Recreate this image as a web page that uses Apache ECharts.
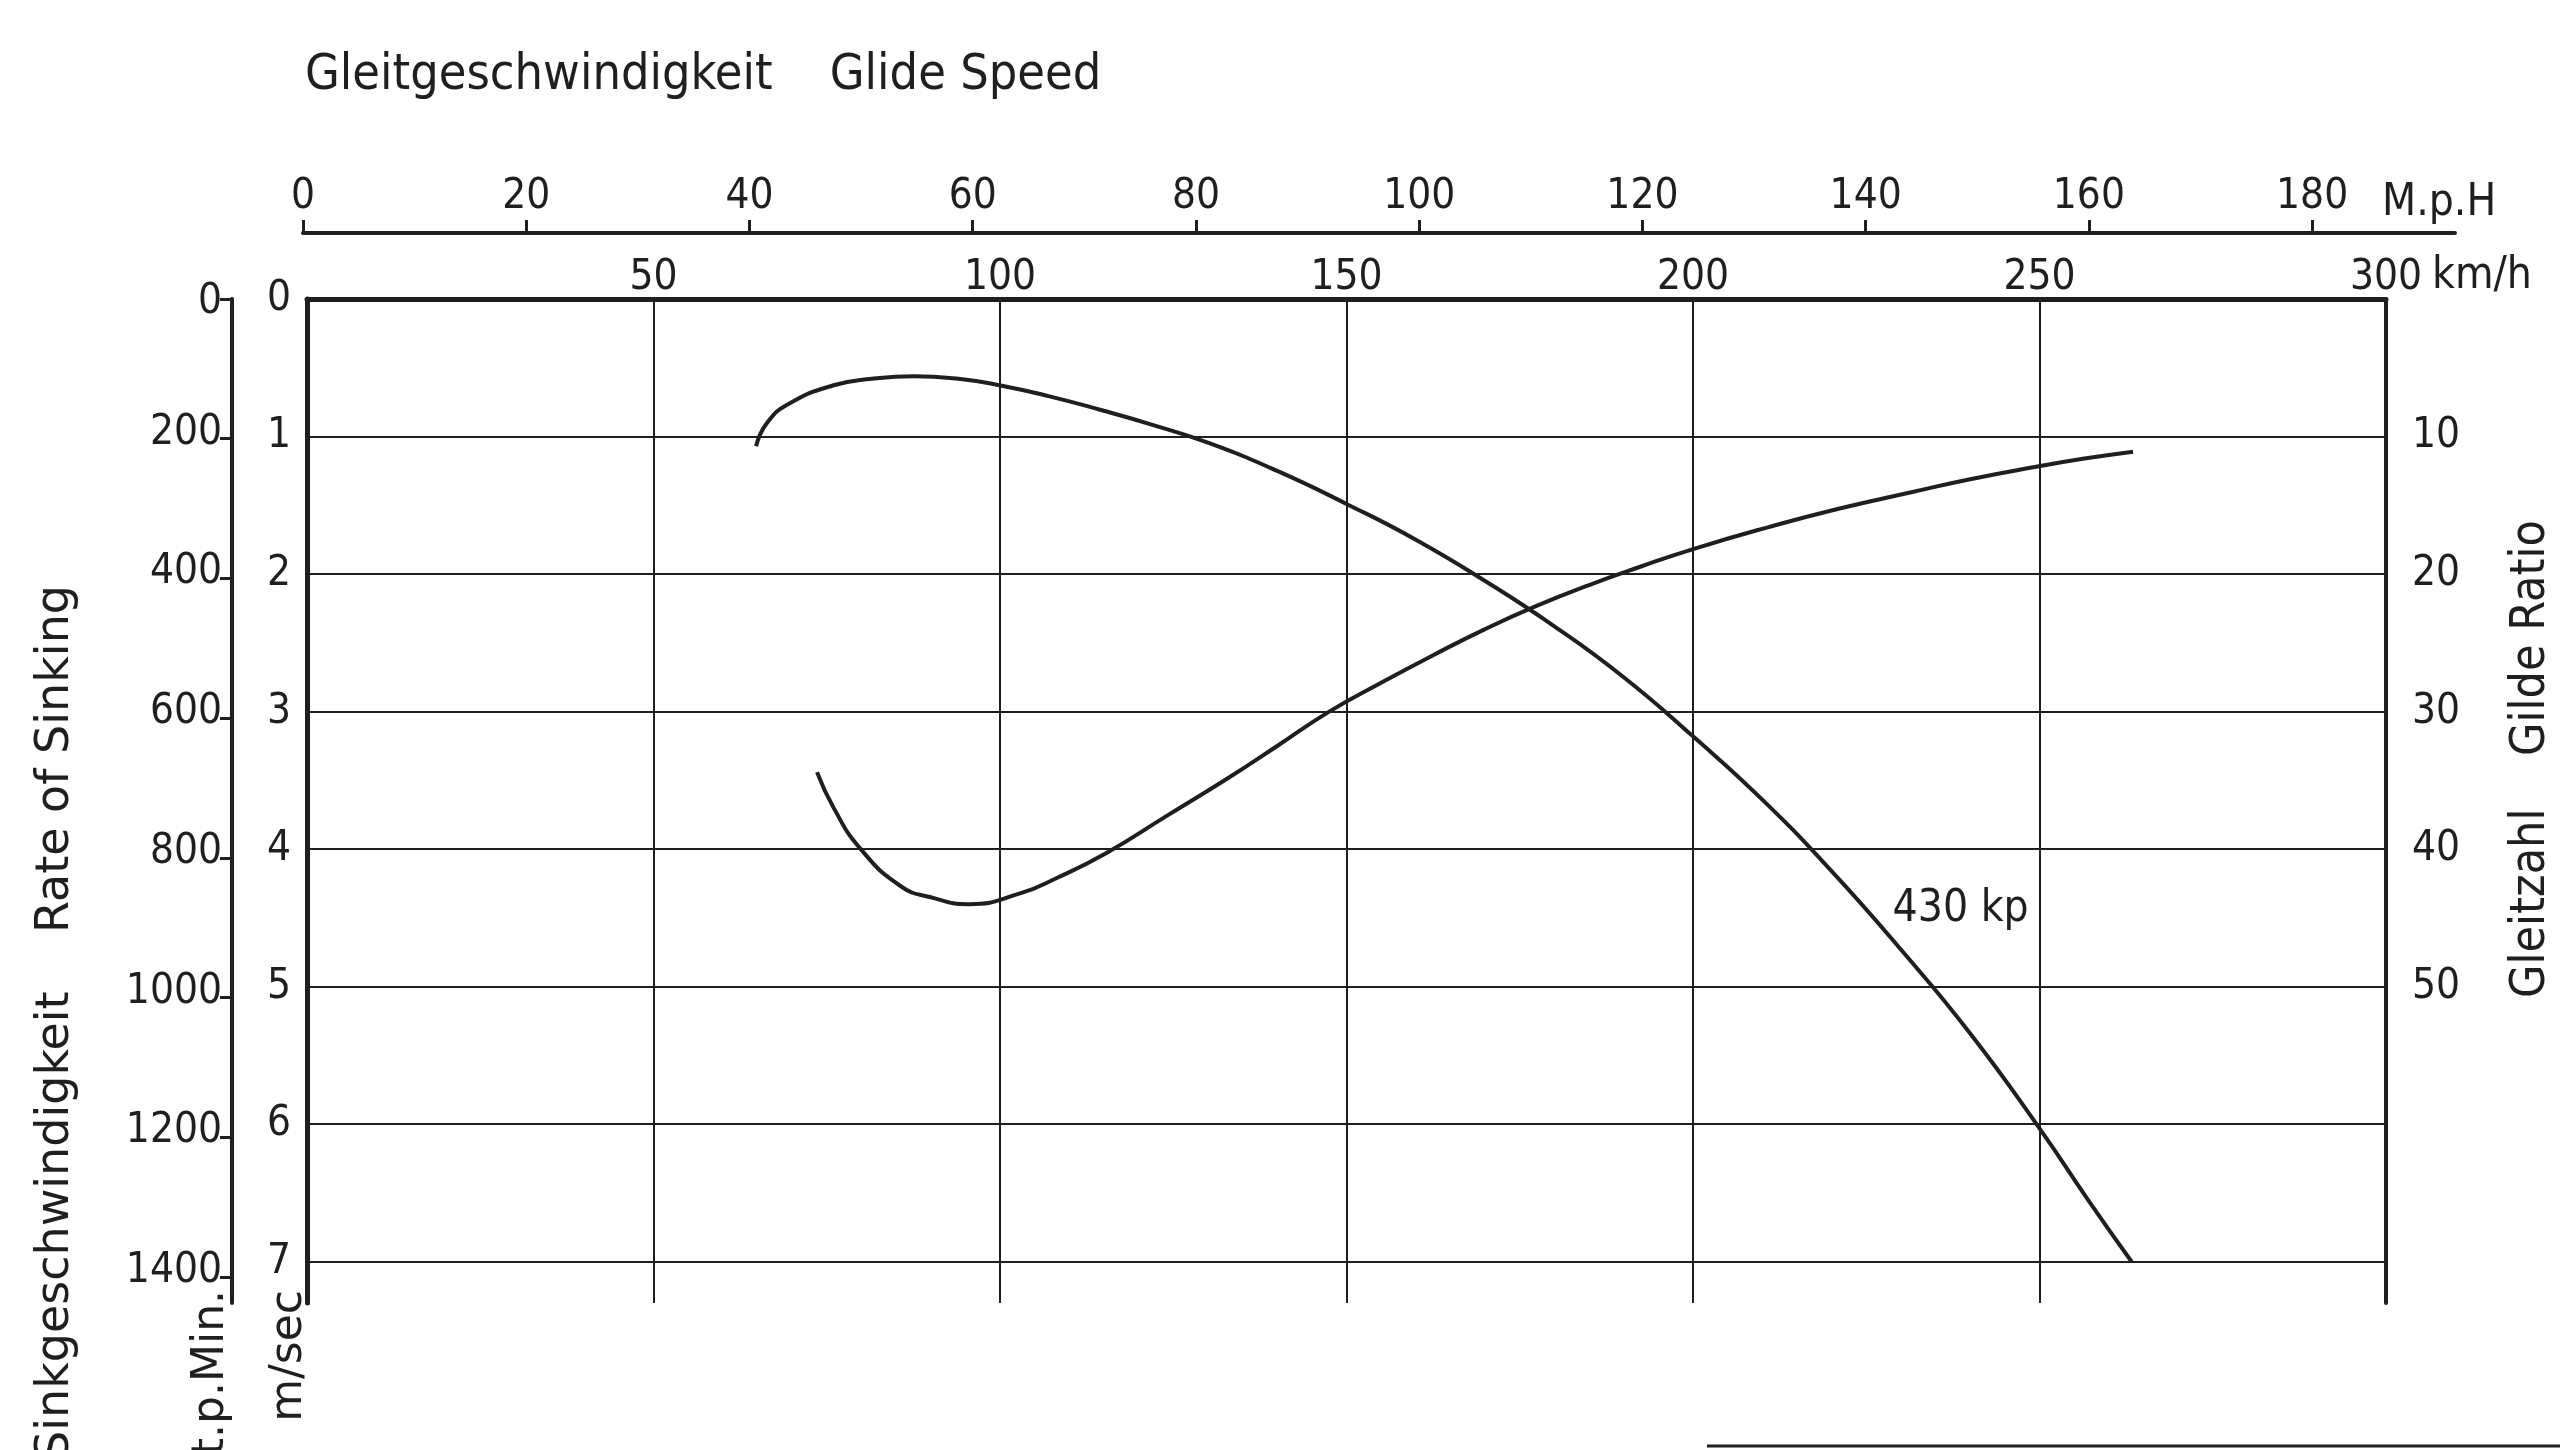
<!DOCTYPE html>
<html>
<head>
<meta charset="utf-8">
<script src="https://cdn.jsdelivr.net/npm/echarts@6/dist/echarts.min.js"></script>
<style>
html, body { margin: 0; padding: 0; background: #fff; }
#main { width: 2560px; height: 1450px; }
</style>
</head>
<body>
<div id="main"></div>
<script>
var chartDom = document.getElementById('main');
var myChart = echarts.init(chartDom);
var option;

// Sinkgeschwindigkeit (m/s) ueber Gleitgeschwindigkeit (km/h), 430 kp
var sinkSpeed = [64.8, 66.4, 69.6, 76.0, 81.5, 87.6, 94.0, 99.9, 107.0, 114.7, 122.0, 130.0, 140.0, 150.0, 160.0, 170.0, 180.0, 190.0, 200.0, 210.0, 220.0, 230.0, 240.0, 250.0, 257.0, 263.3];
var sinkRate = [1.07, 0.90, 0.76, 0.627, 0.58, 0.561, 0.58, 0.627, 0.706, 0.809, 0.915, 1.045, 1.25, 1.49, 1.75, 2.05, 2.38, 2.75, 3.18, 3.64, 4.16, 4.73, 5.34, 6.03, 6.55, 7.0];

// Gleitzahl ueber Gleitgeschwindigkeit (km/h)
var glideSpeed = [73.6, 76.0, 79.9, 85.7, 90.0, 95.5, 103.0, 108.2, 115.3, 124.0, 132.7, 140.0, 147.5, 155.0, 162.5, 170.0, 177.5, 185.0, 192.5, 199.9, 210.8, 221.0, 231.5, 240.0, 249.5, 256.5, 263.5];
var glideRatio = [34.4, 37.0, 40.0, 42.7, 43.5, 44.0, 43.2, 42.1, 40.3, 37.6, 34.9, 32.5, 30.0, 27.9, 25.9, 24.0, 22.3, 20.8, 19.45, 18.2, 16.6, 15.25, 14.05, 13.1, 12.2, 11.6, 11.1];

// tick labels
var ftTicks = [0, 200, 400, 600, 800, 1000, 1200, 1400];
var glideTicks = [10, 20, 30, 40, 50];
var mphTicks = [0, 20, 40, 60, 80, 100, 120, 140, 160, 180];

var ink = '#1f1f1f';
var cond = '"DejaVu Sans Condensed", "Liberation Sans Narrow", "DejaVu Sans", sans-serif';
var wide = '"DejaVu Sans", Verdana, sans-serif';

function pairs(xs, ys) {
    return xs.map(function (x, i) { return [x, ys[i]]; });
}

option = {
    backgroundColor: '#fff',
    animation: false,
    grid: [
        {left: 307, right: 174, top: 299, bottom: 147},
        {left: 303, right: 105, top: 232, height: 1}
    ],
    xAxis: [
        {
            gridIndex: 0,
            type: 'value',
            position: 'top',
            min: 0,
            max: 300,
            interval: 50,
            axisLine: {lineStyle: {color: ink, width: 5}},
            axisTick: {show: false},
            axisLabel: {
                margin: 0,
                fontSize: 42,
                fontFamily: cond,
                color: ink,
                formatter: function (v) { return v === 0 ? '' : v; }
            },
            splitLine: {lineStyle: {color: ink, width: 2}},
            name: 'km/h',
            nameLocation: 'end',
            nameGap: 46,
            nameTextStyle: {fontSize: 44, fontFamily: cond, color: ink, verticalAlign: 'bottom'}
        },
        {
            gridIndex: 1,
            type: 'value',
            position: 'top',
            min: 0,
            max: 192.8,
            axisLine: {lineStyle: {color: ink, width: 4}},
            axisTick: {length: 13, lineStyle: {color: ink, width: 3}, customValues: mphTicks},
            axisLabel: {margin: 14, fontSize: 42, fontFamily: cond, color: ink, customValues: mphTicks},
            splitLine: {show: false}
        }
    ],
    yAxis: [
        {
            // m/sec
            gridIndex: 0,
            type: 'value',
            position: 'left',
            inverse: true,
            min: 0,
            max: 7.3,
            interval: 1,
            axisLine: {lineStyle: {color: ink, width: 5}},
            axisTick: {show: false},
            axisLabel: {
                margin: 16,
                fontSize: 42,
                fontFamily: cond,
                color: ink,
                showMaxLabel: false,
                padding: [4, 0, 0, 0],
                formatter: function (v) { return v % 1 === 0 ? v : ''; }
            },
            splitLine: {showMaxLine: false, lineStyle: {color: ink, width: 2}}
        },
        {
            // Ft. p. Min.
            gridIndex: 0,
            type: 'value',
            position: 'left',
            offset: 75,
            inverse: true,
            min: 0,
            max: 1437,
            axisLine: {show: true, lineStyle: {color: ink, width: 4}},
            axisTick: {show: true, length: 12, lineStyle: {color: ink, width: 3}, customValues: ftTicks},
            axisLabel: {
                margin: 10,
                fontSize: 42,
                fontFamily: cond,
                color: ink,
                customValues: ftTicks,
                formatter: function (v) { return v === 0 ? '{z|0}' : '{a|' + v + '}'; },
                rich: {
                    z: {fontSize: 42, fontFamily: cond, color: ink, padding: [6, 0, 0, 0]},
                    a: {fontSize: 42, fontFamily: cond, color: ink, padding: [0, 0, 12, 0]}
                }
            },
            splitLine: {show: false}
        },
        {
            // Gleitzahl
            gridIndex: 0,
            type: 'value',
            position: 'right',
            inverse: true,
            min: 0,
            max: 73,
            axisLine: {show: true, lineStyle: {color: ink, width: 4}},
            axisTick: {show: false},
            axisLabel: {margin: 26, fontSize: 42, fontFamily: cond, color: ink, padding: [12, 0, 0, 0], customValues: glideTicks},
            splitLine: {show: false}
        },
        {
            // companion axis for the M.p.H grid
            gridIndex: 1,
            type: 'value',
            show: false
        }
    ],
    graphic: [
        {
            type: 'text', x: 305, y: 76,
            style: {text: 'Gleitgeschwindigkeit    Glide Speed', fontSize: 50, fontFamily: cond, fill: ink, align: 'left', verticalAlign: 'middle'}
        },
        {
            type: 'text', x: 2382, y: 204,
            style: {text: 'M.p.H', fontSize: 44, fontFamily: cond, fill: ink, align: 'left', verticalAlign: 'middle'}
        },
        {
            type: 'text', x: 56, y: 1460, rotation: Math.PI / 2,
            style: {text: 'Sinkgeschwindigkeit    Rate of Sinking', fontSize: 46, fontFamily: wide, fill: ink, align: 'left', verticalAlign: 'middle'}
        },
        {
            type: 'text', x: 212, y: 1290, rotation: Math.PI / 2,
            style: {text: 'Ft.p.Min.', fontSize: 44, fontFamily: wide, fill: ink, align: 'right', verticalAlign: 'middle'}
        },
        {
            type: 'text', x: 290, y: 1290, rotation: Math.PI / 2,
            style: {text: 'm/sec', fontSize: 44, fontFamily: wide, fill: ink, align: 'right', verticalAlign: 'middle'}
        },
        {
            type: 'text', x: 2532, y: 998, rotation: Math.PI / 2,
            style: {text: 'Gleitzahl', fontSize: 48, fontFamily: cond, fill: ink, align: 'left', verticalAlign: 'middle'}
        },
        {
            type: 'text', x: 2532, y: 756, rotation: Math.PI / 2,
            style: {text: 'Gilde Ratio', fontSize: 48, fontFamily: cond, fill: ink, align: 'left', verticalAlign: 'middle'}
        },
        {
            type: 'line',
            shape: {x1: 1707, y1: 1446, x2: 2560, y2: 1446},
            style: {stroke: ink, lineWidth: 3}
        }
    ],
    series: [
        {
            name: '430 kp',
            type: 'line',
            xAxisIndex: 0,
            yAxisIndex: 0,
            data: pairs(sinkSpeed, sinkRate),
            smooth: 0.5,
            symbol: 'none',
            lineStyle: {color: ink, width: 4},
            markPoint: {
                symbol: 'circle',
                symbolSize: 0,
                label: {show: true, position: 'right', distance: 0, formatter: '430 kp', fontSize: 44, fontFamily: cond, color: ink},
                data: [{coord: [228.8, 4.44]}]
            }
        },
        {
            name: 'Gleitzahl',
            type: 'line',
            xAxisIndex: 0,
            yAxisIndex: 2,
            data: pairs(glideSpeed, glideRatio),
            smooth: 0.5,
            symbol: 'none',
            lineStyle: {color: ink, width: 4}
        }
    ]
};

option && myChart.setOption(option);
</script>
</body>
</html>
